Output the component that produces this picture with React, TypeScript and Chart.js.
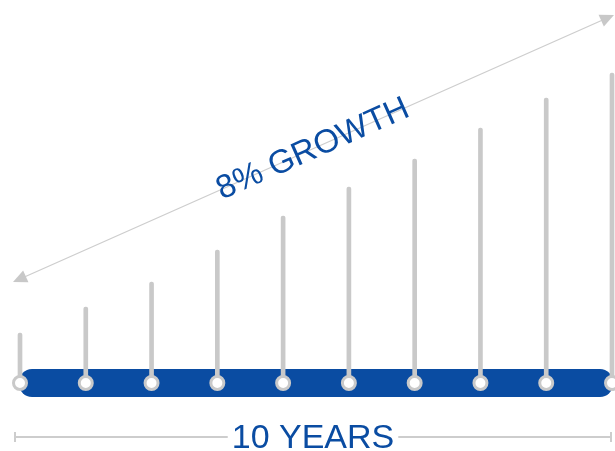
import React, { useEffect, useRef } from 'react';
import { Chart, registerables } from 'chart.js';

Chart.register(...registerables);

const YEARS = ['1', '2', '3', '4', '5', '6', '7', '8', '9', '10'];
const VALUES = [50, 76, 101, 133, 167, 196, 224, 255, 285, 310];
const BASE = YEARS.map(() => 0);
const GROWTH_LABEL = '8% GROWTH';
const SPAN_LABEL = '10 YEARS';

const BLUE = '#0a4ca2';
const STEM = '#c9c9c9';
const LINE = '#cdcdcd';
const FONT = '"Liberation Sans", Arial, sans-serif';

const decorPlugin = {
  id: 'decor',
  beforeDatasetsDraw(chart: any) {
    const { ctx } = chart;
    const xs = chart.scales.x;
    const ys = chart.scales.y;
    const x0 = xs.getPixelForValue(0) - 1;
    const x1 = xs.getPixelForValue(YEARS.length - 1) + 1;
    const yc = ys.getPixelForValue(0);
    ctx.save();
    ctx.fillStyle = BLUE;
    ctx.beginPath();
    (ctx as any).roundRect(x0, yc - 14, x1 - x0, 28, 13);
    ctx.fill();
    ctx.restore();
  },
  afterDatasetsDraw(chart: any) {
    const { ctx, chartArea } = chart;
    const xs = chart.scales.x;
    ctx.save();
    // growth arrow
    const ax0 = chartArea.left - 7, ay0 = 282;
    const ax1 = chartArea.right + 2, ay1 = 15;
    const ang = Math.atan2(ay1 - ay0, ax1 - ax0);
    ctx.strokeStyle = LINE;
    ctx.lineWidth = 1.2;
    ctx.beginPath();
    ctx.moveTo(ax0 + Math.cos(ang) * 10, ay0 + Math.sin(ang) * 10);
    ctx.lineTo(ax1 - Math.cos(ang) * 10, ay1 - Math.sin(ang) * 10);
    ctx.stroke();
    const head = (tx: number, ty: number, a: number) => {
      const L = 14, W = 6.5;
      const bx = tx - Math.cos(a) * L, by = ty - Math.sin(a) * L;
      ctx.fillStyle = '#c8c8c8';
      ctx.beginPath();
      ctx.moveTo(tx, ty);
      ctx.lineTo(bx - Math.sin(a) * W, by + Math.cos(a) * W);
      ctx.lineTo(bx + Math.sin(a) * W, by - Math.cos(a) * W);
      ctx.closePath();
      ctx.fill();
    };
    head(ax1, ay1, ang);
    head(ax0, ay0, ang + Math.PI);
    // growth label
    ctx.save();
    ctx.translate((ax0 + ax1) / 2 - 1, (ay0 + ay1) / 2);
    ctx.rotate(ang);
    ctx.fillStyle = BLUE;
    ctx.font = `33px ${FONT}`;
    ctx.textAlign = 'center';
    ctx.textBaseline = 'middle';
    ctx.fillText(GROWTH_LABEL, 0, 1);
    ctx.restore();
    // span line
    const sy = 437;
    const sx0 = xs.getPixelForValue(0) - 5;
    const sx1 = xs.getPixelForValue(YEARS.length - 1) - 1;
    const cx = (sx0 + sx1) / 2;
    ctx.font = `34px ${FONT}`;
    const tw = ctx.measureText(SPAN_LABEL).width;
    ctx.strokeStyle = LINE;
    ctx.lineWidth = 2;
    ctx.beginPath();
    ctx.moveTo(sx0, sy);
    ctx.lineTo(cx - tw / 2 - 4, sy);
    ctx.moveTo(cx + tw / 2 + 4, sy);
    ctx.lineTo(sx1, sy);
    ctx.moveTo(sx0, sy - 5);
    ctx.lineTo(sx0, sy + 5);
    ctx.moveTo(sx1, sy - 5);
    ctx.lineTo(sx1, sy + 5);
    ctx.stroke();
    ctx.fillStyle = BLUE;
    ctx.textAlign = 'center';
    ctx.textBaseline = 'alphabetic';
    ctx.fillText(SPAN_LABEL, cx, 448);
    ctx.restore();
  },
};

export default function App() {
  const ref = useRef<HTMLCanvasElement>(null);
  useEffect(() => {
    if (!ref.current) return;
    const chart = new Chart(ref.current, {
      type: 'bar',
      data: {
        labels: YEARS,
        datasets: [
          {
            type: 'line',
            data: BASE,
            showLine: false,
            pointRadius: 6.5,
            pointBorderWidth: 3,
            pointBackgroundColor: '#ffffff',
            pointBorderColor: STEM,
            order: 0,
            clip: false,
          } as any,
          {
            type: 'bar',
            data: VALUES,
            backgroundColor: STEM,
            barThickness: 4,
            borderRadius: 2,
            borderSkipped: 'bottom',
            order: 1,
            clip: false,
          } as any,
        ],
      },
      options: {
        animation: false,
        responsive: false,
        events: [],
        layout: { autoPadding: false, padding: { left: 20, right: 3, top: 0, bottom: 68 } },
        plugins: { legend: { display: false }, tooltip: { enabled: false } },
        scales: {
          x: { type: 'category', offset: false, display: false },
          y: { min: 0, max: 383, display: false },
        },
      },
      plugins: [decorPlugin],
    });
    return () => chart.destroy();
  }, []);
  return (
    <div style={{ position: 'absolute', left: 0, top: 0, width: 615, height: 451 }}>
      <canvas ref={ref} width={615} height={451} style={{ display: 'block' }} />
    </div>
  );
}
